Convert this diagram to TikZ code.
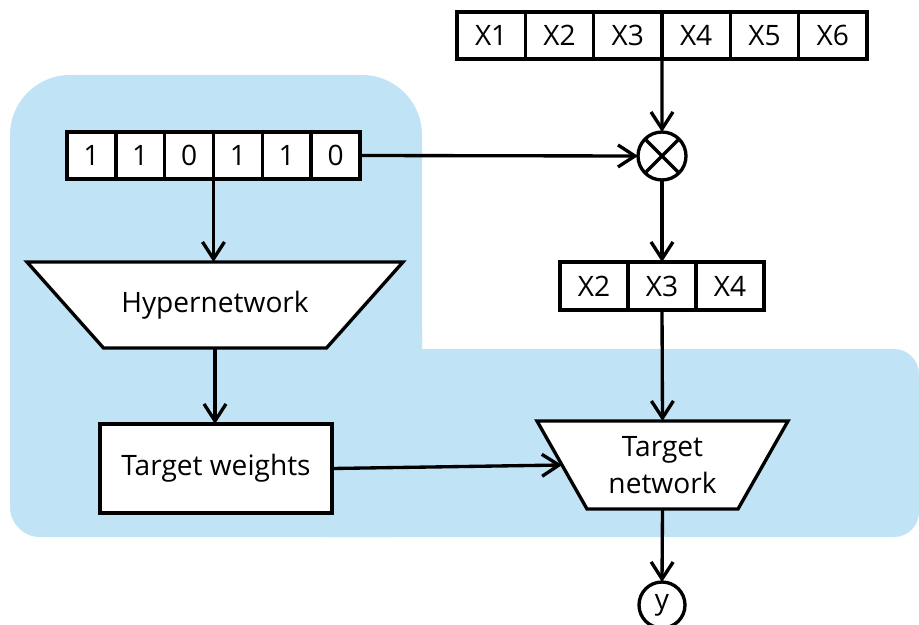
\documentclass[tikz,border=0pt]{standalone}
\usepackage{fontspec}
\setmainfont{Open Sans}
\usetikzlibrary{arrows.meta,calc}
\definecolor{bgblue}{RGB}{192,228,246}
\begin{document}
\begin{tikzpicture}[x=0.02cm,y=-0.02cm,
  line width=1.9pt,
  every node/.style={font=\fontsize{16}{21}\selectfont, inner sep=0pt, outer sep=0pt},
  bincell/.style={draw, fill=white, minimum width=0.976cm, minimum height=0.94cm},
  xcell/.style={draw, fill=white, minimum width=1.366cm, minimum height=0.94cm},
  scell/.style={draw, fill=white, minimum width=1.36cm, minimum height=0.96cm},
  trap/.style={draw, fill=white, line join=miter},
  arr/.style={-{Straight Barb[length=3.4mm,width=4.4mm]}}]
\useasboundingbox (0,0) rectangle (919,625);
% background region
\fill[bgblue, rounded corners=1.2cm] (10,75) rectangle (422,420);
\fill[bgblue, rounded corners=0.6cm] (10,300) rectangle (422,537);
\fill[bgblue, rounded corners=0.5cm] (300,349) rectangle (919,537);
% vectors
\foreach \v [count=\i] in {1,1,0,1,1,0}
  \node[bincell] (b\i) at ({67+48.83*(\i-0.5)},155.5) {\v};
\foreach \v [count=\i] in {X1,X2,X3,X4,X5,X6}
  \node[xcell] (x\i) at ({457+68.33*(\i-0.5)},35.5) {\v};
\foreach \v [count=\i] in {X2,X3,X4}
  \node[scell] (s\i) at ({560+68*(\i-0.5)},286) {\v};
% multiply
\node[draw, circle, fill=white, minimum size=0.96cm] (mult) at (662,156) {};
\draw (mult.45) -- (mult.225) (mult.135) -- (mult.315);
% hypernetwork
\draw[trap] (27,262) -- (403,262) -- (326.5,348) -- (103.5,348) -- cycle;
\node[minimum width=6cm, minimum height=1.72cm] (hyper) at (215,305) {Hypernetwork};
% target weights
\node[draw, fill=white, minimum width=4.64cm, minimum height=1.78cm] (tw) at (216,468.5) {Target weights};
% target network
\draw[trap] (537,421) -- (788,421) -- (738,509) -- (587,509) -- cycle;
\node[minimum width=4.02cm, minimum height=1.76cm, align=center] (tnet) at (662.5,465) {Target\\network};
% output
\node[draw, circle, fill=white, minimum size=0.92cm] (yout) at (662,605) {y};
% connectors
\draw[arr] (b3.south east) -- (b3.south east |- hyper.north);
\draw[arr] (b6.east) -- (mult.west);
\draw[arr] (x3.south east) -- (mult.north);
\draw[arr] (mult.south) -- (s2.north);
\draw[arr] (s2.south) -- (tnet.north);
\draw[arr] (hyper.south) -- (hyper.south |- tw.north);
\draw[arr] (tw.east) -- (tnet.west);
\draw[arr] (tnet.south) -- (yout.north);
\end{tikzpicture}
\end{document}
